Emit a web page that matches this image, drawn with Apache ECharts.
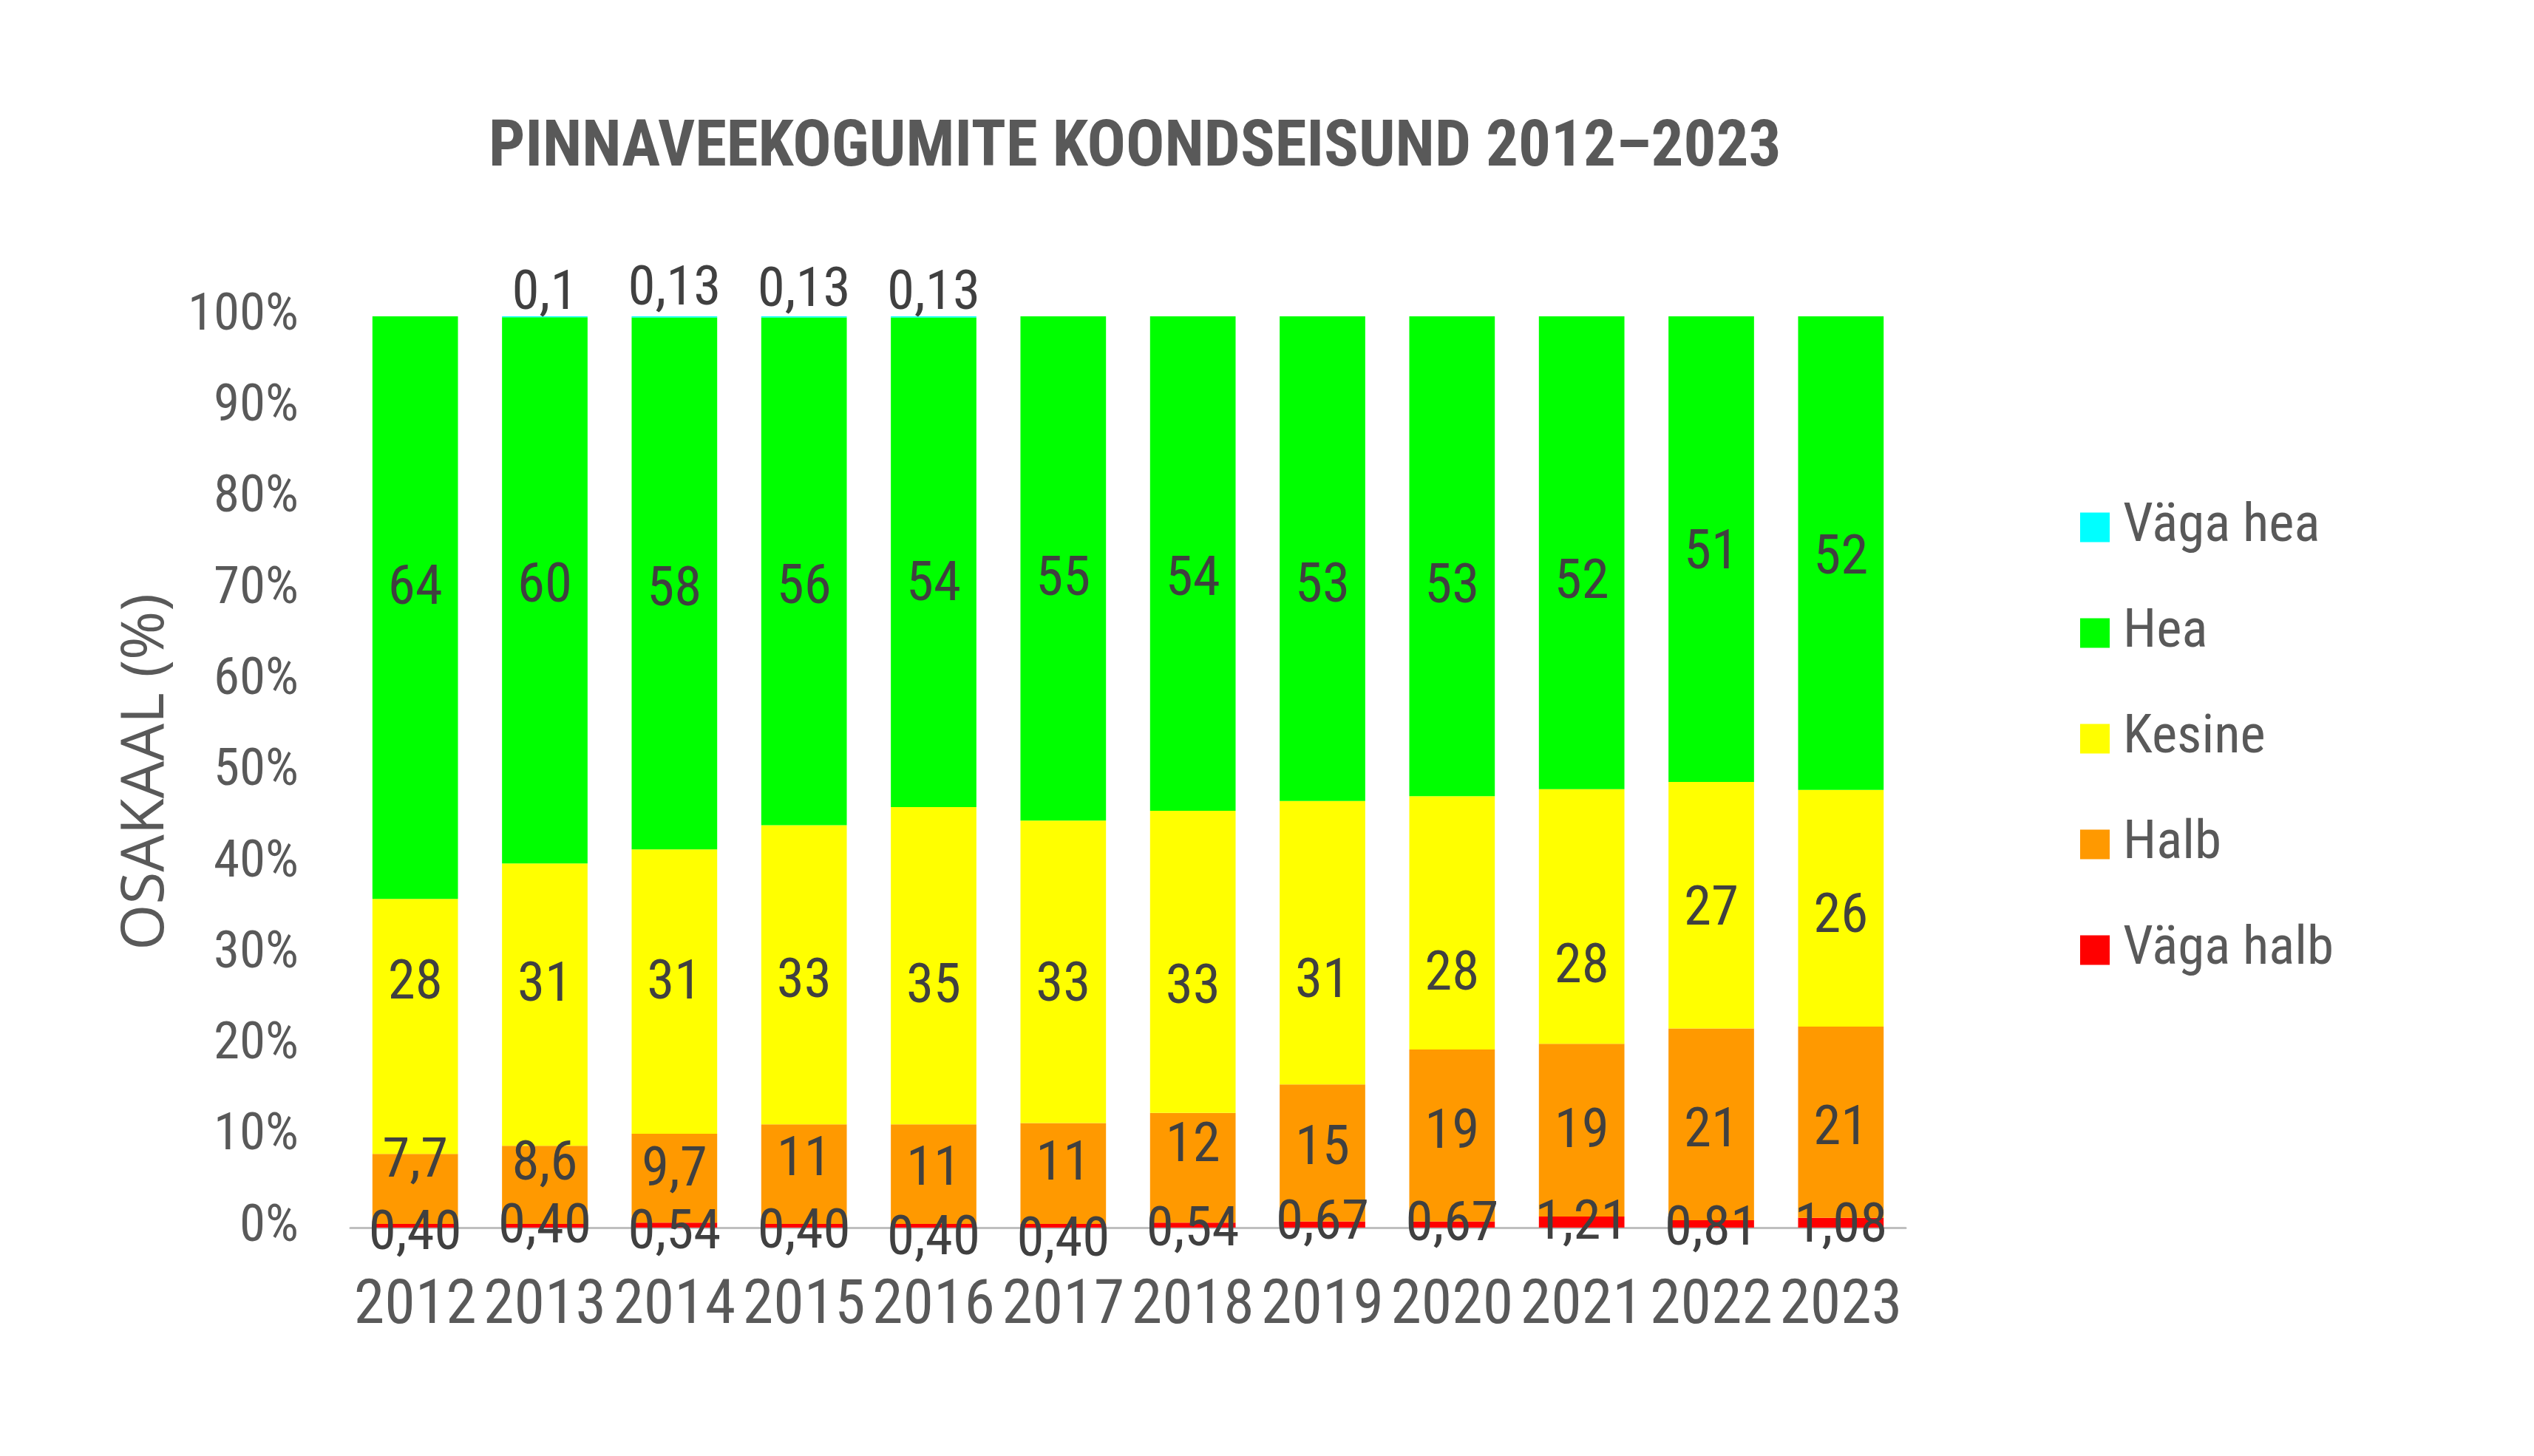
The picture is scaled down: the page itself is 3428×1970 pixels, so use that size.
<!DOCTYPE html>
<html>
<head>
<meta charset="utf-8">
<script src="https://cdn.jsdelivr.net/npm/echarts@6/dist/echarts.min.js"></script>
<style>html,body{margin:0;padding:0;background:#fff}#c{width:3428px;height:1970px}</style>
</head>
<body>
<div id="c"></div>
<script>
const years = ['2012','2013','2014','2015','2016','2017','2018','2019','2020','2021','2022','2023'];
const vagaHalb = [0.40, 0.40, 0.54, 0.40, 0.40, 0.40, 0.54, 0.67, 0.67, 1.21, 0.81, 1.08];
const halb     = [7.7, 8.6, 9.7, 11, 11, 11, 12, 15, 19, 19, 21, 21];
const kesine   = [28, 31, 31, 33, 35, 33, 33, 31, 28, 28, 27, 26];
const hea      = [64, 60, 58, 56, 54, 55, 54, 53, 53, 52, 51, 52];
const vagaHea  = [null, 0.1, 0.13, 0.13, 0.13, null, null, null, null, null, null, null];
const yTicks = [0,10,20,30,40,50,60,70,80,90,100];

// label placement tweaks (pixels, vertical) to follow the hand-placed labels of the original
const nudge = {
  'Väga halb': [13, 4, 13, 11, 20, 22, 9, 0, 2, 4, 9, 7],
  'Halb':      [-35, -26, -9, -17, -4, -11, -28, -4, -2, 4, 11, 11],
  'Kesine':    [-57, -24, -9, 11, 31, 20, 37, 55, 72, 70, 7, 13],
  'Hea':       [-24, -4, 11, 24, 33, 17, 24, 39, 44, 42, 7, 9],
  'Väga hea':  [0, 17, 11, 13, 17, 0, 0, 0, 0, 0, 0, 0]
};

const seriesDefs = [
  {name:'Väga halb', raw:vagaHalb, color:'#FF0000', fmt:v=>v.toFixed(2)},
  {name:'Halb', raw:halb, color:'#FF9900', fmt:v=>String(v)},
  {name:'Kesine', raw:kesine, color:'#FFFF00', fmt:v=>String(v)},
  {name:'Hea', raw:hea, color:'#00FF00', fmt:v=>String(v)},
  {name:'Väga hea', raw:vagaHea, color:'#00FFFF', fmt:v=>String(v), top:true}
];
const totals = years.map((_,i)=>seriesDefs.reduce((s,d)=>s+(d.raw[i]||0),0));

const FONT = '"Roboto Condensed", "Liberation Sans Narrow", "DejaVu Sans Condensed", sans-serif';

const series = seriesDefs.map(d=>({
  name:d.name,
  type:'bar',
  stack:'total',
  barCategoryGap:'34%',
  itemStyle:{color:d.color},
  data:d.raw.map((v,i)=> v==null ? null : {
    value: v/totals[i]*100,
    label:{offset:[0, nudge[d.name][i]]}
  }),
  label:{
    show:true,
    position: d.top ? 'top' : 'inside',
    distance: 8,
    color:'#404040',
    fontFamily:FONT,
    fontSize:75,
    formatter:p=>{const v=d.raw[p.dataIndex]; return v==null?'':d.fmt(v).replace('.',',');}
  }
}));

const chart = echarts.init(document.getElementById('c'), null, {renderer:'canvas'});
chart.setOption({
  animation:false,
  backgroundColor:'#ffffff',
  title:{
    text:'PINNAVEEKOGUMITE KOONDSEISUND 2012–2023',
    left:656, top:154,
    textStyle:{fontFamily:FONT, fontWeight:'bold', fontSize:87, color:'#595959'}
  },
  legend:{
    orient:'vertical',
    left:2809, top:671,
    itemWidth:40, itemHeight:40, itemGap:68,
    icon:'rect',
    data:['Väga hea','Hea','Kesine','Halb','Väga halb'],
    textStyle:{fontFamily:FONT, fontSize:73, color:'#595959', lineHeight:75, padding:[0,0,0,13]}
  },
  grid:{left:474, right:850, top:428, bottom:309, containLabel:false},
  xAxis:{
    type:'category', data:years,
    axisLine:{lineStyle:{color:'#BFBFBF', width:3}},
    axisTick:{show:false},
    axisLabel:{interval:0, fontFamily:FONT, fontSize:84, color:'#595959', margin:66}
  },
  yAxis:{
    type:'value', min:0, max:100, interval:10,
    name:'OSAKAAL (%)', nameLocation:'middle', nameGap:236,
    nameTextStyle:{fontFamily:'"Open Sans", sans-serif', fontSize:80, color:'#595959'},
    axisLine:{show:false}, axisTick:{show:false}, splitLine:{show:false},
    axisLabel:{fontFamily:FONT, fontSize:71, color:'#595959', margin:70,
      formatter:v=> yTicks.includes(v) ? v+'%' : ''}
  },
  series:series
});
</script>
</body>
</html>
